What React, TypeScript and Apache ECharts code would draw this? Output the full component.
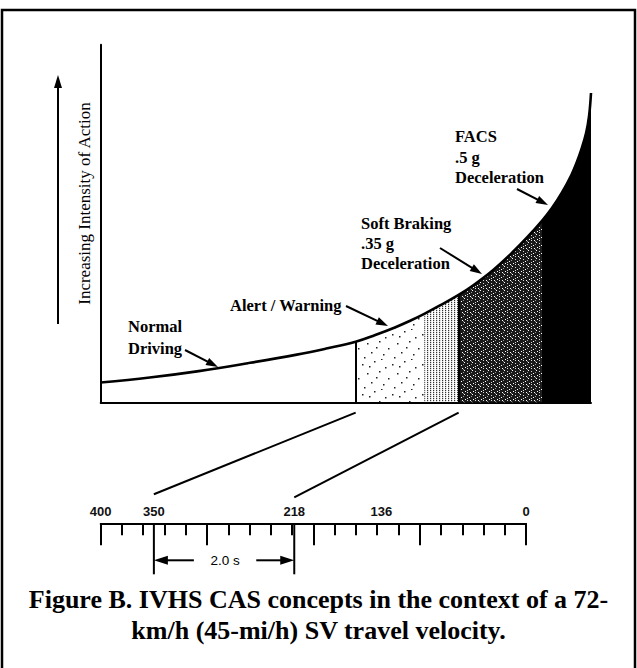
import React, { useEffect, useRef } from "react";
import * as echarts from "echarts";

// ---- Top panel data: position along the approach (0 = far, 100 = closest) vs. intensity of action (0-100)
const curveX = [0, 10, 20, 30, 40, 46, 52, 56, 60, 63, 66, 69, 73, 76, 80, 84, 87, 90, 92, 94, 96, 97, 98, 99, 99.6, 100];
const curveY = [5.6, 7.0, 8.8, 11.0, 13.4, 15.1, 17.0, 18.9, 21.0, 22.8, 24.8, 27.0, 30.1, 32.8, 37.0, 42.0, 46.2, 50.8, 54.3, 58.5, 63.6, 66.8, 70.6, 75.3, 80.0, 86.5];

// shaded zones under the curve
const zoneStarts = [52, 66, 73, 90];
const zoneEnds = [66, 73, 90, 100];
const zoneNames = ["Alert / Warning", "Alert / Warning (late)", "Soft Braking", "FACS"];
const dividerX = [52, 73];

// ---- Bottom scale: range (ft)
const rangeMin = 0;
const rangeMax = 400;
const rangeMajor = 100;
const rangeMinorSplit = 5;
const rangeLabels = [400, 350, 218, 136, 0];
const bracketFrom = 350;
const bracketTo = 218;
const bracketLabel = "2.0 s";
// top-panel divider -> bottom-scale range
const linkTop = [52, 73];
const linkBottom = [350, 218];

// ---- Texts
const yTitle = "Increasing Intensity of Action";
const captionLines = [
  "Figure B. IVHS CAS concepts in the context of a 72-",
  "km/h (45-mi/h) SV travel velocity.",
];

const SERIF = '"Liberation Serif", "Times New Roman", serif';
const SANS = '"Liberation Sans", Arial, sans-serif';

function patternCanvas(w: number, h: number, paint: (ctx: CanvasRenderingContext2D) => void) {
  const c = document.createElement("canvas");
  c.width = w;
  c.height = h;
  const ctx = c.getContext("2d") as CanvasRenderingContext2D;
  paint(ctx);
  return c;
}

function arrow(x1: number, y1: number, x2: number, y2: number, headLen = 12, headW = 8, lw = 2) {
  const dx = x2 - x1;
  const dy = y2 - y1;
  const len = Math.sqrt(dx * dx + dy * dy);
  const ux = dx / len;
  const uy = dy / len;
  const bx = x2 - ux * headLen;
  const by = y2 - uy * headLen;
  const px = -uy * (headW / 2);
  const py = ux * (headW / 2);
  return [
    {
      type: "line",
      shape: { x1, y1, x2: x2 - ux * headLen * 0.7, y2: y2 - uy * headLen * 0.7 },
      style: { stroke: "#000", lineWidth: lw },
      silent: true,
    },
    {
      type: "polygon",
      shape: { points: [[x2, y2], [bx + px, by + py], [bx - px, by - py]] },
      style: { fill: "#000" },
      silent: true,
    },
  ];
}

function text(t: string, x: number, y: number, font: string, align = "left", extra: any = {}) {
  return {
    type: "text",
    x,
    y,
    silent: true,
    ...extra,
    style: {
      text: t,
      font,
      fill: "#000",
      align,
      verticalAlign: "middle",
      textAlign: align,
      textVerticalAlign: "middle",
    },
  };
}

export default function App() {
  const ref = useRef<HTMLDivElement>(null);

  useEffect(() => {
    const el = ref.current;
    if (!el) return;
    const chart = echarts.init(el, null, { renderer: "svg" });

    const sparse = patternCanvas(30, 30, (ctx) => {
      ctx.fillStyle = "#222";
      const dots = [
        [2, 4], [14, 1], [25, 7], [7, 13], [19, 11], [28, 18], [11, 22],
        [23, 24], [4, 27], [16, 17], [9, 6], [21, 29],
      ];
      for (const [x, y] of dots) ctx.fillRect(x, y, 1.5, 1.5);
    });
    const medium = patternCanvas(3, 2, (ctx) => {
      ctx.fillStyle = "#333";
      ctx.fillRect(1, 0, 1.2, 1.2);
    });
    const dense = patternCanvas(8, 8, (ctx) => {
      ctx.fillStyle = "#1a1a1a";
      ctx.fillRect(0, 0, 8, 8);
      ctx.fillStyle = "#d8d8d8";
      ctx.fillRect(3, 0, 1, 1);
      ctx.fillRect(3, 3, 1, 1);
      ctx.fillRect(3, 6, 1, 1);
      ctx.fillStyle = "#9a9a9a";
      ctx.fillRect(7, 1, 1, 1);
      ctx.fillRect(7, 4, 1, 1);
      ctx.fillStyle = "#ffffff";
      ctx.fillRect(0, 2, 1, 1);
      ctx.fillRect(5, 5, 1, 1);
      ctx.fillRect(1, 7, 1, 1);
      ctx.fillRect(6, 0, 1, 1);
    });
    const pat = (c: HTMLCanvasElement) => ({ image: c, repeat: "repeat", imageWidth: c.width, imageHeight: c.height });
    const fills: any[] = [pat(sparse), pat(medium), pat(dense), "#000"];

    const pts = curveX.map((x, i) => [x, curveY[i]]);
    const yAt = (x: number) => curveY[curveX.indexOf(x)];

    const zoneSeries = zoneStarts.map((a, i) => ({
      name: zoneNames[i],
      type: "line",
      xAxisIndex: 0,
      yAxisIndex: 0,
      data: pts.filter((p) => p[0] >= a && p[0] <= zoneEnds[i]),
      smooth: 0.4,
      symbol: "none",
      lineStyle: { width: 0, opacity: 0 },
      areaStyle: { color: fills[i], opacity: 1 },
      z: 1,
      silent: true,
    }));

    const staticGraphics: any[] = [
      // frame
      {
        type: "polyline",
        shape: { points: [[2, 668], [2, 10], [635, 10], [635, 668]] },
        style: { stroke: "#000", lineWidth: 2.5, fill: null },
        silent: true,
      },
      // y title + arrow
      text(yTitle, 84, 203.5, `17px ${SERIF}`, "center", { rotation: Math.PI / 2 }),
      {
        type: "line",
        shape: { x1: 58, y1: 324, x2: 58, y2: 85 },
        style: { stroke: "#000", lineWidth: 2 },
        silent: true,
      },
      {
        type: "polygon",
        shape: { points: [[58, 75], [54, 88], [62, 88]] },
        style: { fill: "#000" },
        silent: true,
      },
      // annotations
      text("Normal", 128, 326, `bold 16.5px ${SERIF}`),
      text("Driving", 128, 348, `bold 16.5px ${SERIF}`),
      ...arrow(185, 350, 218, 367),
      text("Alert / Warning", 230, 305, `bold 16.5px ${SERIF}`),
      ...arrow(346, 306, 388, 326),
      text("Soft Braking", 361, 223, `bold 16.5px ${SERIF}`),
      text(".35 g", 361, 243, `bold 16.5px ${SERIF}`),
      text("Deceleration", 361, 263, `bold 16.5px ${SERIF}`),
      ...arrow(440, 248, 482, 274),
      text("FACS", 455, 136, `bold 16.5px ${SERIF}`),
      text(".5 g", 455, 157, `bold 16.5px ${SERIF}`),
      text("Deceleration", 455, 177, `bold 16.5px ${SERIF}`),
      ...arrow(517, 189, 548, 205),
      // caption
      text(captionLines[0], 318.5, 599, `bold 26px ${SERIF}`, "center"),
      text(captionLines[1], 318.5, 630, `bold 26px ${SERIF}`, "center"),
    ];

    chart.setOption({
      animation: false,
      backgroundColor: "#fff",
      grid: [
        { left: 100.7, top: 44.7, width: 490.3, height: 357.9 },
        { left: 100.7, top: 470, width: 425.4, height: 53.3 },
      ],
      xAxis: [
        {
          gridIndex: 0,
          type: "value",
          min: 0,
          max: 100,
          axisLine: { show: true, lineStyle: { color: "#000", width: 2 } },
          axisTick: { show: false },
          axisLabel: { show: false },
          splitLine: { show: false },
        },
        {
          gridIndex: 1,
          type: "value",
          min: rangeMin,
          max: rangeMax,
          interval: rangeMajor,
          inverse: true,
          axisLine: { show: true, onZero: false, lineStyle: { color: "#000", width: 2 } },
          axisTick: { show: true, inside: false, length: 22, lineStyle: { color: "#000", width: 2 } },
          minorTick: { show: true, splitNumber: rangeMinorSplit, length: 12, lineStyle: { color: "#000", width: 2 } },
          axisLabel: {
            show: true,
            inside: true,
            margin: 5,
            customValues: rangeLabels,
            formatter: (v: number) => String(v),
            color: "#111",
            fontSize: 13,
            fontWeight: "bold",
            fontFamily: SANS,
          },
          splitLine: { show: false },
          minorSplitLine: { show: false },
        },
      ],
      yAxis: [
        {
          gridIndex: 0,
          type: "value",
          min: 0,
          max: 100,
          axisLine: { show: true, lineStyle: { color: "#000", width: 2 } },
          axisTick: { show: false },
          axisLabel: { show: false },
          splitLine: { show: false },
        },
        {
          gridIndex: 1,
          type: "value",
          min: 0,
          max: 1,
          show: false,
        },
      ],
      series: [
        ...zoneSeries,
        {
          name: "Intensity",
          type: "line",
          xAxisIndex: 0,
          yAxisIndex: 0,
          data: pts,
          smooth: 0.4,
          symbol: "none",
          lineStyle: { color: "#000", width: 2.6 },
          z: 3,
          silent: true,
          markLine: {
            silent: true,
            symbol: ["none", "none"],
            label: { show: false },
            lineStyle: { color: "#000", width: 2, type: "solid" },
            data: dividerX.map((x) => [{ coord: [x, 0] }, { coord: [x, yAt(x)] }]),
          },
        },
        {
          name: "Range",
          type: "line",
          xAxisIndex: 1,
          yAxisIndex: 1,
          data: [],
          silent: true,
        },
      ],
      graphic: staticGraphics,
    });

    // graphics that depend on both scales
    const topPix = (x: number, y: number) => chart.convertToPixel({ xAxisIndex: 0, yAxisIndex: 0 }, [x, y]) as number[];
    const botPix = (x: number) => chart.convertToPixel({ xAxisIndex: 1, yAxisIndex: 1 }, [x, 0]) as number[];
    const extra: any[] = [];
    const bottomGaps = [29, 26];
    linkTop.forEach((t, i) => {
      const a = topPix(t, 0);
      const b = botPix(linkBottom[i]);
      extra.push({
        type: "line",
        shape: { x1: a[0], y1: a[1] + 10, x2: b[0], y2: b[1] - bottomGaps[i] },
        style: { stroke: "#000", lineWidth: 2 },
        silent: true,
      });
    });
    const p1 = botPix(bracketFrom);
    const p2 = botPix(bracketTo);
    const axisY = p1[1];
    [p1, p2].forEach((p) =>
      extra.push({
        type: "line",
        shape: { x1: p[0], y1: axisY, x2: p[0], y2: axisY + 51 },
        style: { stroke: "#000", lineWidth: 2 },
        silent: true,
      })
    );
    const dimY = axisY + 37;
    extra.push(...arrow(p1[0] + 40, dimY, p1[0], dimY, 14, 9, 2));
    extra.push(...arrow(p2[0] - 38, dimY, p2[0], dimY, 14, 9, 2));
    extra.push(text(bracketLabel, (p1[0] + 40 + p2[0] - 38) / 2, dimY, `13.5px ${SANS}`, "center"));

    chart.setOption({ graphic: [...staticGraphics, ...extra] });

    return () => chart.dispose();
  }, []);

  return (
    <div
      ref={ref}
      style={{ position: "fixed", left: 0, top: 0, width: 637, height: 668, background: "#fff" }}
    />
  );
}
